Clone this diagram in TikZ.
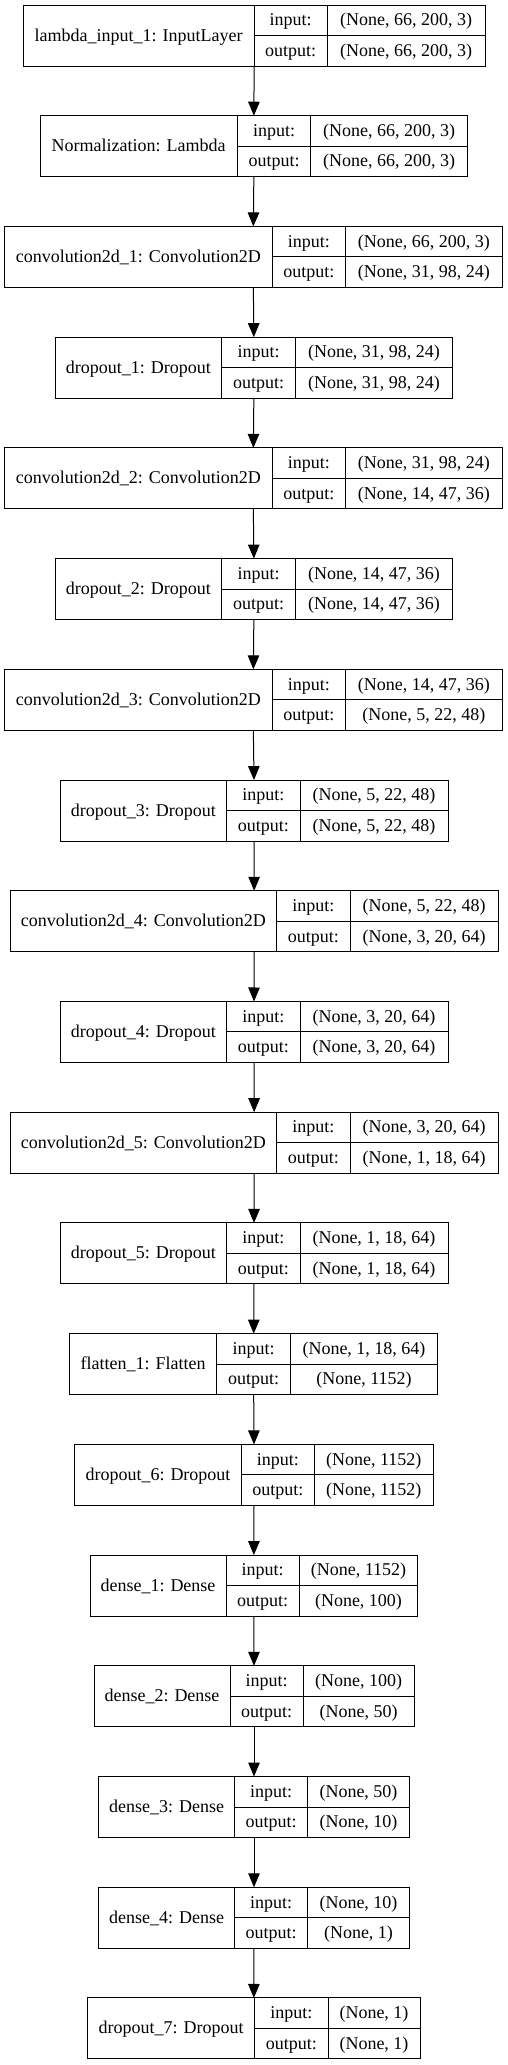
\documentclass[tikz,border=0pt]{standalone}
\usepackage{fontspec}
\setmainfont{Liberation Serif}
\usetikzlibrary{arrows.meta}
\tikzset{
  lbox/.style={draw=black, line width=1pt, minimum height=61pt, inner sep=0pt, outer sep=0pt, fill=white},
  cell/.style={draw=black, line width=1pt},
  txt/.style={inner sep=0pt, font=\fontsize{18}{20}\selectfont, text height=13pt, text depth=2pt},
  arr/.style={draw=black, line width=1pt, -{Triangle[length=14pt,width=11.5pt]}}
}
\newcommand{\kerasLayer}[9]{%
  \pgfmathsetmacro{\kTy}{5+(#2-1)*110.72}%
  \pgfmathsetmacro{\kBy}{\kTy+61}%
  \pgfmathsetmacro{\kMy}{\kTy+30.5}%
  \pgfmathsetmacro{\kWd}{#6-#3}%
  \node[lbox, minimum width=\kWd pt, anchor=north west] (#1) at (#3,\kTy) {};
  \draw[cell] (#4,\kTy) -- (#4,\kBy) (#5,\kTy) -- (#5,\kBy) (#4,\kMy) -- (#6,\kMy);
  \node[txt] (#1-lab) at ({(#3+#4)/2},\kMy) {#7};
  \node[txt] (#1-in) at ({(#4+#5)/2},{\kTy+15.25}) {input:};
  \node[txt] (#1-out) at ({(#4+#5)/2},{\kTy+45.75}) {output:};
  \node[txt] (#1-inv) at ({(#5+#6)/2},{\kTy+15.25}) {#8};
  \node[txt] (#1-outv) at ({(#5+#6)/2},{\kTy+45.75}) {#9};
}
\begin{document}
\begin{tikzpicture}[x=1pt,y=-1pt]
\fill[white] (0,0) rectangle (508,2065);
\useasboundingbox (0,0) rectangle (508,2065);
\kerasLayer{L1}{1}{23.3}{254}{327.3}{485}{lambda\_input\_1: InputLayer}{(None, 66, 200, 3)}{(None, 66, 200, 3)}
\kerasLayer{L2}{2}{40}{237.3}{310.7}{467.7}{Normalization: Lambda}{(None, 66, 200, 3)}{(None, 66, 200, 3)}
\kerasLayer{L3}{3}{4}{272.7}{345}{502.7}{convolution2d\_1: Convolution2D}{(None, 66, 200, 3)}{(None, 31, 98, 24)}
\kerasLayer{L4}{4}{55}{221.7}{295.3}{452.7}{dropout\_1: Dropout}{(None, 31, 98, 24)}{(None, 31, 98, 24)}
\kerasLayer{L5}{5}{4}{272.7}{345}{502.7}{convolution2d\_2: Convolution2D}{(None, 31, 98, 24)}{(None, 14, 47, 36)}
\kerasLayer{L6}{6}{55}{221.7}{295.3}{452.7}{dropout\_2: Dropout}{(None, 14, 47, 36)}{(None, 14, 47, 36)}
\kerasLayer{L7}{7}{4}{272.7}{345}{502.7}{convolution2d\_3: Convolution2D}{(None, 14, 47, 36)}{(None, 5, 22, 48)}
\kerasLayer{L8}{8}{60}{226.7}{300}{448}{dropout\_3: Dropout}{(None, 5, 22, 48)}{(None, 5, 22, 48)}
\kerasLayer{L9}{9}{10}{276.7}{350}{498.3}{convolution2d\_4: Convolution2D}{(None, 5, 22, 48)}{(None, 3, 20, 64)}
\kerasLayer{L10}{10}{60}{226.7}{300}{448}{dropout\_4: Dropout}{(None, 3, 20, 64)}{(None, 3, 20, 64)}
\kerasLayer{L11}{11}{10}{276.7}{350}{498.3}{convolution2d\_5: Convolution2D}{(None, 3, 20, 64)}{(None, 1, 18, 64)}
\kerasLayer{L12}{12}{60}{226.7}{300}{448}{dropout\_5: Dropout}{(None, 1, 18, 64)}{(None, 1, 18, 64)}
\kerasLayer{L13}{13}{69.7}{216.7}{290.3}{437.7}{flatten\_1: Flatten}{(None, 1, 18, 64)}{(None, 1152)}
\kerasLayer{L14}{14}{74.7}{241.3}{314.3}{433.3}{dropout\_6: Dropout}{(None, 1152)}{(None, 1152)}
\kerasLayer{L15}{15}{90}{226}{299.3}{417.7}{dense\_1: Dense}{(None, 1152)}{(None, 100)}
\kerasLayer{L16}{16}{94}{230}{303.3}{414}{dense\_2: Dense}{(None, 100)}{(None, 50)}
\kerasLayer{L17}{17}{98.7}{234.7}{307.7}{409.3}{dense\_3: Dense}{(None, 50)}{(None, 10)}
\kerasLayer{L18}{18}{98.7}{234.7}{307.7}{409.3}{dense\_4: Dense}{(None, 10)}{(None, 1)}
\kerasLayer{L19}{19}{87.7}{254.7}{328}{420}{dropout\_7: Dropout}{(None, 1)}{(None, 1)}
\foreach \a/\b in {L1/L2,L2/L3,L3/L4,L4/L5,L5/L6,L6/L7,L7/L8,L8/L9,L9/L10,L10/L11,L11/L12,L12/L13,L13/L14,L14/L15,L15/L16,L16/L17,L17/L18,L18/L19}
  \draw[arr] (\a.south) -- (\b.north);
\end{tikzpicture}
\end{document}
